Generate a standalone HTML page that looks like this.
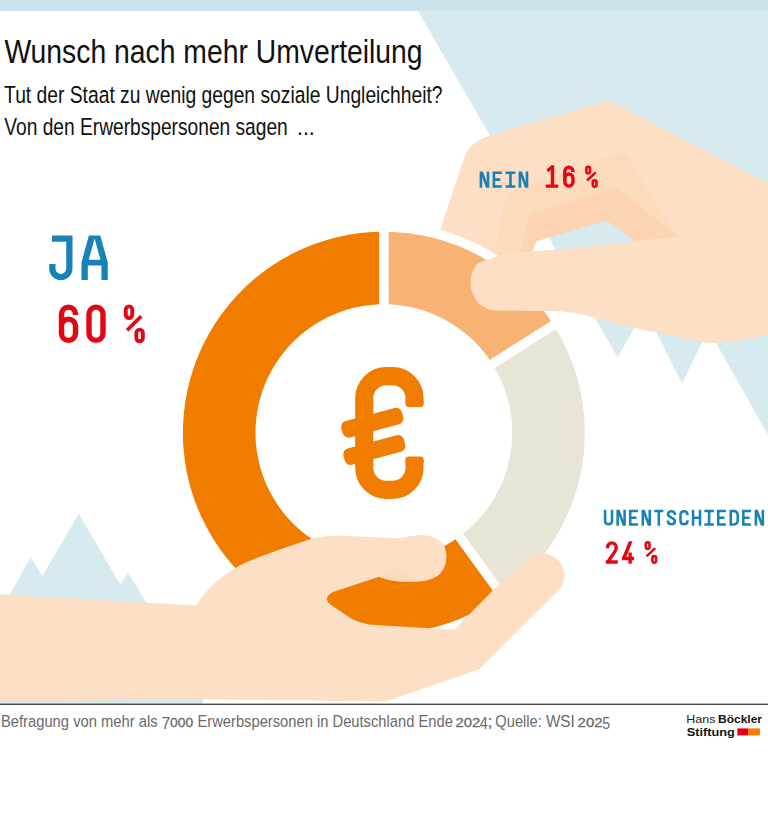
<!DOCTYPE html>
<html lang="de"><head><meta charset="utf-8"><title>Wunsch nach mehr Umverteilung</title>
<style>html,body{margin:0;padding:0;background:#fff;}body{width:768px;height:820px;overflow:hidden;font-family:"Liberation Sans",sans-serif;}</style></head>
<body>
<svg width="768" height="820" viewBox="0 0 768 820" style="display:block">
<rect width="768" height="820" fill="#fff"/>
<rect width="768" height="11" fill="#cbe3ec"/>
<polygon points="418,11 768,11 768,435 708.4,329.6 682,383.4 645.2,309.8 617.5,357" fill="#d6eaef"/>
<polygon points="0,594.6 10,594.6 30.7,557.3 42.4,576 78.8,513.8 120.3,584.5 128,572.5 146,602.6 203,640 203,704 0,704" fill="#d6eaef"/>
<path d="M435.4,244 L464.4,157.3 Q469.6,141.6 491.6,135 L602,102 Q608.5,100 614,103 L768,183 L768,330 L700,330 L640,318 L500,300 L470,260 Z" fill="#fcdfc5"/>
<path d="M492.5,260 L505.8,196 Q506.6,193 509.5,192.3 L617,153.5 Q624,151.5 628,158 L677,236 L677,262 L492,262 Z" fill="#fcdbbd"/>
<path d="M520.6,254 L529.3,216.5 Q530,214.2 532.5,213.6 L614,188.2 Q617,187.4 619.5,189.4 L677,236 L677,262 L520,262 Z" fill="#fcd4b1"/>
<polygon points="536.25,241.5 606.7,220.4 636,241.5 636,262 533,262" fill="#d6eaef"/>
<polygon points="536.25,241.5 548.75,237.8 556.5,251 556,262 532.8,262 533.1,250.3" fill="#fff"/>
<circle cx="383.9" cy="432.7" r="210.6" fill="#fff"/>
<path d="M383.90,231.70 A201.0,201.0 0 0 1 553.61,325.00 L492.31,363.90 A128.4,128.4 0 0 0 383.90,304.30 Z" fill="#f8b273"/>
<path d="M553.61,325.00 A201.0,201.0 0 0 1 502.04,595.31 L459.37,536.58 A128.4,128.4 0 0 0 492.31,363.90 Z" fill="#e8e5d6"/>
<path d="M502.04,595.31 A201.0,201.0 0 1 1 383.90,231.70 L383.90,304.30 A128.4,128.4 0 1 0 459.37,536.58 Z" fill="#f07d00"/>
<line x1="383.90" y1="310.30" x2="383.90" y2="223.70" stroke="#fff" stroke-width="9.5"/>
<line x1="487.25" y1="367.11" x2="560.36" y2="320.71" stroke="#fff" stroke-width="9.5"/>
<line x1="455.84" y1="531.72" x2="506.75" y2="601.78" stroke="#fff" stroke-width="9.5"/>
<path d="M414.55,403.5 V398.15 A22.0,22.0 0 0 0 392.55,376.15 H386.25 A22.0,22.0 0 0 0 364.25,398.15 V467.85 A22.0,22.0 0 0 0 386.25,489.85 H392.55 A22.0,22.0 0 0 0 414.55,467.85 V460" fill="none" stroke="#f07d00" stroke-width="18.1"/>
<rect x="405.5" y="398.9" width="18.1" height="8" rx="3.2" fill="#f07d00"/>
<rect x="405.5" y="456.6" width="18.1" height="8" rx="3.2" fill="#f07d00"/>
<rect x="-31.3" y="-8.5" width="62.6" height="17" rx="6" fill="#f07d00" transform="translate(372.3,422.7) rotate(-15)"/>
<rect x="-31.3" y="-8.5" width="62.6" height="17" rx="6" fill="#f07d00" transform="translate(374.3,450.1) rotate(-15)"/>
<path d="M768,183 L768,334.2 L749.6,338.4 Q733,342.3 716,343 Q708,343.2 700.8,341.75 L657.5,332.8 L614.2,323.3 L595.2,317.9 Q578,312.6 560,311.2 L497,310.5 C486,310.5 478.5,305 474.5,297.5 C471.6,291.5 470.4,287 470.4,283.2 C470.4,277 472.5,269 477,264.3 Q480.5,261.4 487.3,259.5 L499,255.8 Q515,252.5 533,251.3 L560,249.3 L636,241.5 L677,236.2 Z" fill="#fcdfc5"/>
<path d="M0,594.5 L196,605.4 C200,600 203,595.5 207.1,590.8 C211.5,586 216,581.3 221.7,577.3 C226,574 230,571 235.2,567.9 C244,563 253,559.3 263.3,555.4 L284.2,548.1 L311.25,538.75 Q325,535.5 340,535.6 L400,538.6 Q412,535 423,535 Q446.5,537 446.5,557 Q446,570 437.3,576 Q428,581.6 417.2,581.6 L400,581.6 Q388,580 379,576.7 L333,592 Q322,598 331,605 L352,619 Q360,623 369,624.6 L400,626.6 L454.5,629.7 L497,586 L528.3,559.3 A21.5,21.5 0 0 1 557.3,591.6 L479.4,669.2 L408.7,693.4 L386,701.6 L300,700.4 L203,699.4 L0,701.6 Z" fill="#fcdfc5"/>
<path d="M379,576.7 L395.8,568 L410,575.5 L417.2,581.6 L400,581.6 Q388,580 379,576.7 Z" fill="#fcdbbd"/>
<rect x="0" y="703.6" width="768" height="1.4" fill="#4a4a4a"/>
<text x="4.39" y="62.5" font-family="'Liberation Sans', sans-serif" font-size="33.5" font-weight="normal" fill="#111" textLength="418.23" lengthAdjust="spacingAndGlyphs" >Wunsch nach mehr Umverteilung</text>
<text x="4.09" y="102.6" font-family="'Liberation Sans', sans-serif" font-size="23.7" font-weight="normal" fill="#111" textLength="438.43" lengthAdjust="spacingAndGlyphs" >Tut der Staat zu wenig gegen soziale Ungleichheit?</text>
<text x="4.3" y="134.5" font-family="'Liberation Sans', sans-serif" font-size="23.7" font-weight="normal" fill="#111" textLength="283.45" lengthAdjust="spacingAndGlyphs" >Von den Erwerbspersonen sagen</text>
<text x="296.96" y="134.5" font-family="'Liberation Sans', sans-serif" font-size="23.7" font-weight="normal" fill="#111" textLength="17.87" lengthAdjust="spacingAndGlyphs" >...</text>
<path d="M52.01,238.55 H69.35 M69.35,235.40 V268.55 A8.50,8.50 0 0 1 52.35,268.55 V263.96" fill="none" stroke="#1881b5" stroke-width="6.3" stroke-linejoin="miter" stroke-miterlimit="6"/>
<path d="M81.50,280.00 L81.50,262.40 L88.90,235.40 L100.30,235.40 L107.70,262.40 L107.70,280.00 L101.40,280.00 L101.40,265.60 L87.80,265.60 L87.80,280.00 Z M88.74,259.80 L94.60,238.44 L100.46,259.80 Z" fill="#1881b5" fill-rule="evenodd"/>
<path d="M75.50,315.10 V314.10 A7.00,7.00 0 0 0 61.50,314.10 V333.40 A7.00,7.00 0 0 0 75.50,333.40 V326.09 A7.00,7.00 0 0 0 61.50,326.09 M89.00,314.10 A7.00,7.00 0 0 1 103.00,314.10 V333.40 A7.00,7.00 0 0 1 89.00,333.40 Z" fill="none" stroke="#e30613" stroke-width="5.4" stroke-linejoin="miter" stroke-miterlimit="6"/>
<path d="M125.75,309.60 A3.25,3.25 0 0 1 132.25,309.60 V314.70 A3.25,3.25 0 0 1 125.75,314.70 Z M136.35,332.90 A3.25,3.25 0 0 1 142.85,332.90 V338.00 A3.25,3.25 0 0 1 136.35,338.00 Z" fill="none" stroke="#e30613" stroke-width="3.9"/><line x1="141.21" y1="316.31" x2="127.10" y2="330.32" stroke="#e30613" stroke-width="3.6"/>
<path d="M501.78,172.70 H493.90 V186.50 H501.78 M493.90,179.60 H500.29 M505.60,172.70 H515.30 M510.45,172.70 V186.50 M505.60,186.50 H515.30" fill="none" stroke="#1881b5" stroke-width="2.6" stroke-linejoin="miter" stroke-miterlimit="6"/><path d="M479.60,187.80 V171.40 H482.85 L486.70,181.90 V171.40 H489.30 V187.80 H486.05 L482.20,177.30 V187.80 Z M518.60,187.80 V171.40 H521.85 L525.70,181.90 V171.40 H528.30 V187.80 H525.05 L521.20,177.30 V187.80 Z" fill="#1881b5"/>
<path d="M552.49,165.60 V186.10 M545.79,186.10 H558.21 M573.00,171.96 V171.40 A4.10,4.10 0 0 0 564.80,171.40 V182.00 A4.10,4.10 0 0 0 573.00,182.00 V178.17 A4.10,4.10 0 0 0 564.80,178.17" fill="none" stroke="#e30613" stroke-width="3.4" stroke-linejoin="miter" stroke-miterlimit="6"/><path d="M554.19,165.60 H551.30 L546.54,169.36 L548.41,172.42 L550.89,169.85 Z" fill="#e30613"/>
<path d="M586.40,168.65 A1.85,1.85 0 0 1 590.10,168.65 V171.45 A1.85,1.85 0 0 1 586.40,171.45 Z M592.80,182.05 A1.85,1.85 0 0 1 596.50,182.05 V184.85 A1.85,1.85 0 0 1 592.80,184.85 Z" fill="none" stroke="#e30613" stroke-width="2.6"/><line x1="595.63" y1="172.41" x2="587.09" y2="180.53" stroke="#e30613" stroke-width="2.5"/>
<path d="M605.07,509.70 V520.95 A3.48,3.48 0 0 0 612.02,520.95 V509.70 M637.93,510.97 H630.22 V524.42 H637.93 M630.22,517.70 H636.47 M654.34,510.97 H663.33 M658.83,510.97 V525.70 M674.88,514.99 V514.45 A3.48,3.48 0 0 0 667.93,514.45 C667.93,517.14 674.88,518.26 674.88,520.95 A3.48,3.48 0 0 1 667.93,520.95 V520.41 M687.45,515.26 V514.45 A3.48,3.48 0 0 0 680.50,514.45 V520.95 A3.48,3.48 0 0 0 687.45,520.95 V520.14 M693.07,509.70 V525.70 M700.02,509.70 V525.70 M693.07,517.70 H700.02 M704.36,510.97 H713.86 M709.11,510.97 V524.42 M704.36,524.42 H713.86 M725.92,510.97 H718.21 V524.42 H725.92 M718.21,517.70 H724.46 M730.78,510.97 H733.90 A3.82,3.82 0 0 1 737.73,514.80 V520.60 A3.82,3.82 0 0 1 733.90,524.42 H730.78 Z M751.06,510.97 H743.35 V524.42 H751.06 M743.35,517.70 H749.60" fill="none" stroke="#1881b5" stroke-width="2.55" stroke-linejoin="miter" stroke-miterlimit="6"/><path d="M616.37,525.70 V509.70 H619.56 L623.32,519.94 V509.70 H625.87 V525.70 H622.68 L618.92,515.46 V525.70 Z M641.51,525.70 V509.70 H644.70 L648.46,519.94 V509.70 H651.01 V525.70 H647.82 L644.06,515.46 V525.70 Z M754.64,525.70 V509.70 H757.83 L761.59,519.94 V509.70 H764.14 V525.70 H760.95 L757.19,515.46 V525.70 Z" fill="#1881b5"/>
<path d="M607.50,548.21 V547.25 A4.35,4.35 0 0 1 616.20,547.25 Q616.20,549.74 614.63,551.90 L607.84,562.05 M605.80,562.05 H617.73 M621.88,558.51 H634.15 M630.12,552.48 V563.75" fill="none" stroke="#e30613" stroke-width="3.4" stroke-linejoin="miter" stroke-miterlimit="6"/><path d="M628.73,541.20 H632.47 L625.79,558.51 H621.88 Z" fill="#e30613"/>
<path d="M645.80,544.25 A1.85,1.85 0 0 1 649.50,544.25 V547.05 A1.85,1.85 0 0 1 645.80,547.05 Z M652.40,557.95 A1.85,1.85 0 0 1 656.10,557.95 V560.75 A1.85,1.85 0 0 1 652.40,560.75 Z" fill="none" stroke="#e30613" stroke-width="2.6"/><line x1="655.19" y1="548.10" x2="646.53" y2="556.33" stroke="#e30613" stroke-width="2.5"/>
<text x="0.93" y="727.1" font-family="'Liberation Sans', sans-serif" font-size="17.4" font-weight="normal" fill="#6a6a6a" textLength="156.72" lengthAdjust="spacingAndGlyphs" >Befragung von mehr als</text>
<text x="161.57" y="729.4" font-family="'Liberation Sans', sans-serif" font-size="16.4" font-weight="normal" fill="#6a6a6a" textLength="8.88" lengthAdjust="spacingAndGlyphs" >7</text>
<text x="170.07" y="727.1" font-family="'Liberation Sans', sans-serif" font-size="13.1" font-weight="normal" fill="#6a6a6a" textLength="23.07" lengthAdjust="spacingAndGlyphs" stroke="#6a6a6a" stroke-width="0.3">000</text>
<text x="197.48" y="727.1" font-family="'Liberation Sans', sans-serif" font-size="17.4" font-weight="normal" fill="#6a6a6a" textLength="255.36" lengthAdjust="spacingAndGlyphs" >Erwerbspersonen in Deutschland Ende</text>
<text x="455.55" y="727.1" font-family="'Liberation Sans', sans-serif" font-size="13.1" font-weight="normal" fill="#6a6a6a" textLength="24.85" lengthAdjust="spacingAndGlyphs" stroke="#6a6a6a" stroke-width="0.3">202</text>
<text x="479.86" y="729.4" font-family="'Liberation Sans', sans-serif" font-size="16.4" font-weight="normal" fill="#6a6a6a" textLength="8.07" lengthAdjust="spacingAndGlyphs" >4</text>
<text x="487.29" y="727.1" font-family="'Liberation Sans', sans-serif" font-size="17.4" font-weight="normal" fill="#6a6a6a" textLength="5.54" lengthAdjust="spacingAndGlyphs" >;</text>
<text x="495.37" y="727.1" font-family="'Liberation Sans', sans-serif" font-size="17.4" font-weight="normal" fill="#6a6a6a" textLength="46.39" lengthAdjust="spacingAndGlyphs" >Quelle:</text>
<text x="545.88" y="727.1" font-family="'Liberation Sans', sans-serif" font-size="17.4" font-weight="normal" fill="#6a6a6a" textLength="28.94" lengthAdjust="spacingAndGlyphs" >WSI</text>
<text x="577.64" y="727.1" font-family="'Liberation Sans', sans-serif" font-size="13.1" font-weight="normal" fill="#6a6a6a" textLength="25.06" lengthAdjust="spacingAndGlyphs" stroke="#6a6a6a" stroke-width="0.3">202</text>
<text x="602.35" y="729.4" font-family="'Liberation Sans', sans-serif" font-size="16.4" font-weight="normal" fill="#6a6a6a" textLength="7.89" lengthAdjust="spacingAndGlyphs" >5</text>
<text x="686.36" y="723.4" font-family="'Liberation Sans', sans-serif" font-size="10.9" font-weight="normal" fill="#222" textLength="29.04" lengthAdjust="spacingAndGlyphs" >Hans</text>
<text x="717.97" y="723.4" font-family="'Liberation Sans', sans-serif" font-size="10.9" font-weight="bold" fill="#111" textLength="44.0" lengthAdjust="spacingAndGlyphs" >Böckler</text>
<text x="686.75" y="735.6" font-family="'Liberation Sans', sans-serif" font-size="11.5" font-weight="bold" fill="#111" textLength="48.12" lengthAdjust="spacingAndGlyphs" >Stiftung</text>
<rect x="737.3" y="728.4" width="11.3" height="7" fill="#e2001a"/>
<rect x="748.6" y="728.4" width="11.3" height="7" fill="#f07d00"/>
</svg>
</body></html>
